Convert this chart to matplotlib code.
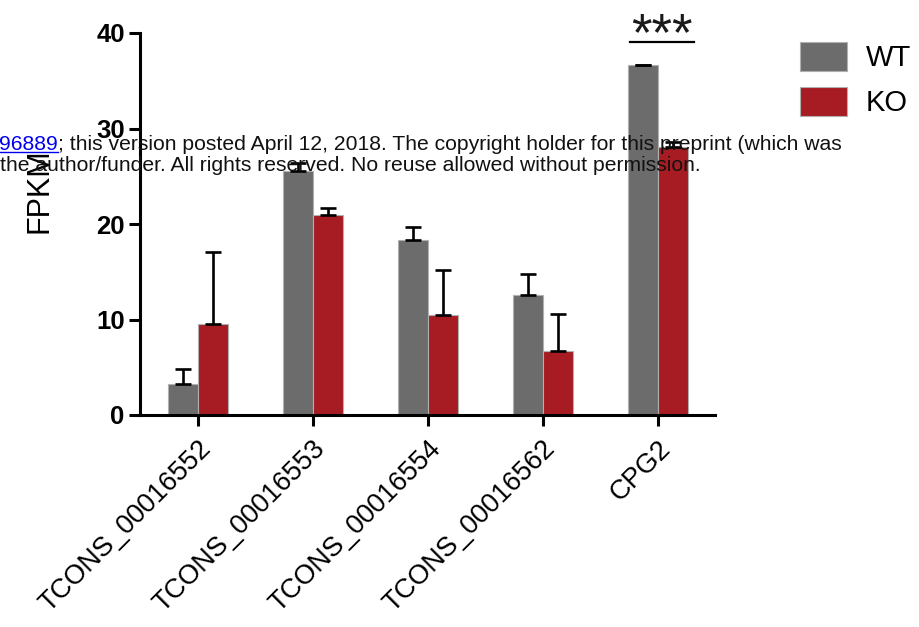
import matplotlib
matplotlib.use("Agg")
import matplotlib.pyplot as plt
import numpy as np

plt.rcParams['font.family'] = ['Liberation Sans', 'DejaVu Sans']

categories = ["TCONS_00016552", "TCONS_00016553", "TCONS_00016554",
              "TCONS_00016562", "CPG2"]
wt_values = [3.2, 25.5, 18.3, 12.6, 36.6]
wt_errors = [1.6, 0.9, 1.4, 2.2, 0.1]
ko_values = [9.5, 20.9, 10.5, 6.7, 28.1]
ko_errors = [7.6, 0.8, 4.7, 3.9, 0.45]
series_names = ["WT", "KO"]
y_ticks = [0, 10, 20, 30, 40]
sig_label = "***"

WT_COLOR = "#6b6c6b"
KO_COLOR = "#a61c22"

fig = plt.figure(figsize=(9.2, 6.27), dpi=100)
ax = fig.add_axes([140 / 920, 1 - 415 / 627, 575 / 920, 382 / 627])

x = np.arange(len(categories))
w = 0.26
xw = x - 0.125
xk = x + 0.135

ax.bar(xw, wt_values, width=w, color=WT_COLOR, edgecolor="#b0b0b0",
       linewidth=0.8, label=series_names[0], zorder=2)
ax.bar(xk, ko_values, width=w, color=KO_COLOR, edgecolor="#b0b0b0",
       linewidth=0.8, label=series_names[1], zorder=2)

err_kw = dict(fmt="none", ecolor="black", elinewidth=1.9, capsize=5.8,
              capthick=1.9, zorder=3)
ax.errorbar(xw, wt_values, yerr=[np.zeros(len(x)), wt_errors], **err_kw)
ax.errorbar(xk, ko_values, yerr=[np.zeros(len(x)), ko_errors], **err_kw)

ax.set_xlim(-0.5, 4.5)
ax.set_ylim(0, 40)
ax.set_yticks(y_ticks)
ax.set_yticklabels([str(t) for t in y_ticks], fontsize=18.5,
                   fontweight="bold")
ax.set_xticks(x)
ax.set_xticklabels(categories, rotation=45, ha="right",
                   rotation_mode="anchor", fontsize=19.5)

for s in ["top", "right"]:
    ax.spines[s].set_visible(False)
for s in ["left", "bottom"]:
    ax.spines[s].set_linewidth(2.2)
ax.tick_params(axis="both", width=2.2, length=8, direction="out",
               color="black", pad=3)
ax.tick_params(axis="x", pad=7)

# significance bar above CPG2
ax.plot([3.76, 4.32], [39.05, 39.05], color="black", lw=1.6,
        clip_on=False, zorder=4)
ax.text(4.04, 39.65, sig_label, ha="center", va="center", fontsize=38,
        color="#1a1a1a", clip_on=False)

fig.text(40 / 920, 1 - 191 / 627, "FPKM", rotation=90, ha="center",
         va="center", fontsize=22)

fig.legend(loc="upper left", bbox_to_anchor=(800 / 920, 1 - 42 / 627),
           frameon=False, fontsize=21, handlelength=1.6, handleheight=1.15,
           handletextpad=0.65, labelspacing=0.5, borderpad=0,
           borderaxespad=0)

# bioRxiv preprint notice
renderer = fig.canvas.get_renderer()
fs_note = 15.2
y1 = 1 - 150 / 627
y2 = 1 - 171 / 627
link = fig.text(-1 / 920, y1, "96889", color="#0000ee", fontsize=fs_note,
                ha="left", va="baseline", zorder=10)
bb = link.get_window_extent(renderer)
fig.add_artist(plt.Line2D([bb.x0 / 920, bb.x1 / 920],
                          [y1 - 2 / 627, y1 - 2 / 627], color="#0000ee",
                          lw=1.0, zorder=10))
fig.text(bb.x1 / 920, y1,
         "; this version posted April 12, 2018. The copyright holder for this preprint (which was",
         color="#111111", fontsize=fs_note, ha="left", va="baseline", zorder=10)
fig.text(0, y2,
         "the author/funder. All rights reserved. No reuse allowed without permission.",
         color="#111111", fontsize=fs_note, ha="left", va="baseline", zorder=10)

fig.savefig("out.png", dpi=100)
